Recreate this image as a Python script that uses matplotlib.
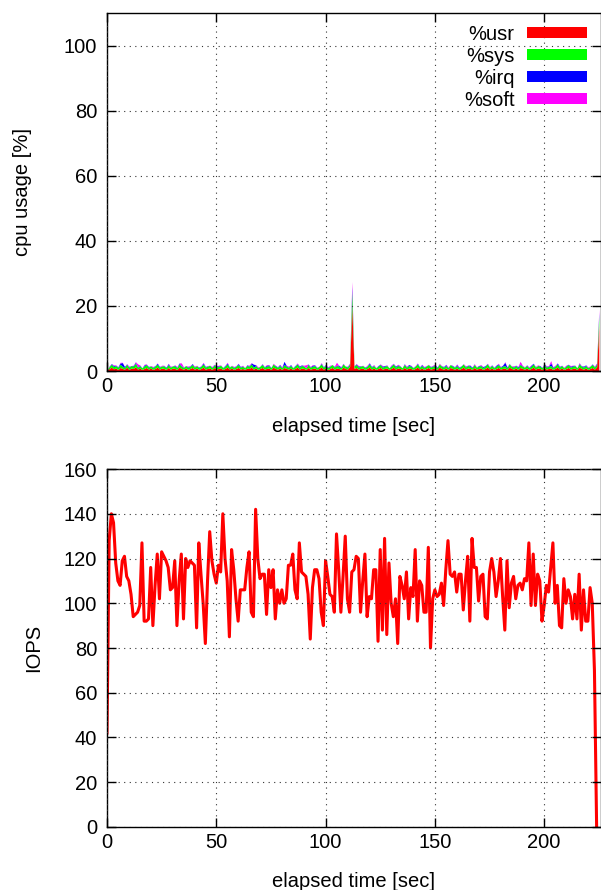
import numpy as np
import matplotlib
matplotlib.use("Agg")
import matplotlib.pyplot as plt

plt.rcParams['font.family'] = ['Liberation Sans', 'DejaVu Sans']
plt.rcParams['font.size'] = 14.5

# cpu usage [%], one sample per second
usr = [0.3,0.8,1.2,0.7,0.9,0.5,1.1,0.8,0.6,1.2,0.5,0.9,0.8,1.3,0.6,0.9,0.5,0.8,1.1,0.6,
       0.9,0.5,0.8,1.2,0.6,0.9,0.8,0.5,1.1,0.6,0.9,0.8,0.5,1.2,0.8,0.6,0.9,0.5,0.8,1.1,
       0.6,0.9,0.5,0.8,1.2,0.6,0.8,0.9,0.5,1.1,0.6,0.8,0.9,0.5,0.8,1.2,0.6,0.9,0.5,0.8,
       1.1,0.6,0.8,0.5,0.9,0.8,1.2,0.6,0.9,0.5,0.8,1.1,0.6,0.8,0.9,0.5,1.2,0.8,0.6,0.9,
       0.5,1.1,0.8,0.6,0.9,0.5,0.8,1.2,0.6,0.9,0.8,0.5,1.1,0.6,0.8,0.9,0.5,0.8,1.2,0.6,
       0.9,0.5,0.8,1.1,0.6,0.9,0.8,0.5,1.2,0.8,0.6,1.4,20.0,0.8,1.1,0.6,0.8,0.9,0.5,0.8,
       1.2,0.6,0.9,0.5,0.8,1.1,0.6,0.8,0.9,0.5,0.8,1.2,0.6,0.9,0.8,0.5,1.1,0.6,0.9,0.8,
       0.5,0.8,1.2,0.6,0.9,0.5,0.8,1.1,0.6,0.8,0.9,0.5,1.2,0.8,0.6,0.9,0.5,1.1,0.8,0.6,
       0.9,0.5,0.8,1.2,0.6,0.9,0.8,0.5,1.1,0.6,0.8,0.9,0.5,0.8,1.2,0.6,0.9,0.5,0.8,1.1,
       0.6,0.8,0.9,0.5,1.2,0.8,0.6,0.9,0.5,1.1,0.8,0.6,0.9,0.5,0.8,1.2,0.6,0.9,0.8,0.5,
       1.1,0.6,0.8,0.9,0.5,0.8,1.2,0.6,0.9,0.5,0.8,1.1,0.6,0.8,0.9,0.5,1.2,0.8,0.6,0.9,
       0.5,0.8,1.1,0.6,1.3,14.0]
sys_ = [0.0,0.6,0.9,0.7,0.8,0.6,1.0,0.7,0.5,0.9,0.6,0.8,0.7,1.1,0.6,0.7,0.5,0.8,0.9,0.6,
        0.7,0.5,0.8,0.9,0.6,0.7,0.8,0.5,0.9,0.6,0.7,0.8,0.6,1.0,0.7,0.5,0.8,0.6,0.7,0.9,
        0.6,0.8,0.5,0.7,1.0,0.6,0.7,0.9,0.5,0.8,0.7,0.6,0.9,0.5,0.7,1.0,0.6,0.8,0.5,0.7,
        0.9,0.6,0.7,0.5,0.8,0.7,1.0,0.6,0.8,0.5,0.7,0.9,0.6,0.7,0.8,0.5,1.0,0.7,0.6,0.8,
        0.5,0.9,0.7,0.6,0.8,0.5,0.7,1.0,0.6,0.8,0.7,0.5,0.9,0.6,0.7,0.8,0.5,0.7,1.0,0.6,
        0.8,0.5,0.7,0.9,0.6,0.8,0.7,0.5,1.0,0.7,0.6,0.8,4.5,0.7,0.9,0.6,0.7,0.8,0.5,0.7,
        1.0,0.6,0.8,0.5,0.7,0.9,0.6,0.7,0.8,0.5,0.7,1.0,0.6,0.8,0.7,0.5,0.9,0.6,0.8,0.7,
        0.5,0.7,1.0,0.6,0.8,0.5,0.7,0.9,0.6,0.7,0.8,0.5,1.0,0.7,0.6,0.8,0.5,0.9,0.7,0.6,
        0.8,0.5,0.7,1.0,0.6,0.8,0.7,0.5,0.9,0.6,0.7,0.8,0.5,0.7,1.0,0.6,0.8,0.5,0.7,0.9,
        0.6,0.7,0.8,0.5,1.0,0.7,0.6,0.8,0.5,0.9,0.7,0.6,0.8,0.5,0.7,1.0,0.6,0.8,0.7,0.5,
        0.9,0.6,0.7,0.8,0.5,0.7,1.0,0.6,0.8,0.5,0.7,0.9,0.6,0.7,0.8,0.5,1.0,0.7,0.6,0.8,
        0.5,0.7,0.9,0.6,0.8,3.0]
irq = [0.0,0.1,0.2,0.3,0.1,0.2,0.4,1.1,0.3,0.1,0.2,0.0,0.2,0.3,0.1,0.2,0.0,0.3,0.1,0.2,
       0.0,0.2,0.1,0.3,0.2,0.0,0.1,0.2,0.3,0.1,0.0,0.2,0.1,0.3,0.2,0.1,0.0,0.2,0.1,0.3,
       0.1,0.0,0.2,0.1,0.3,0.2,0.1,0.0,0.2,0.1,0.3,0.2,0.0,0.1,0.2,0.3,0.1,0.0,0.2,0.1,
       0.3,0.2,0.1,0.0,0.2,0.1,0.3,0.9,0.2,0.1,0.0,0.2,0.1,0.3,0.2,0.1,0.0,0.2,0.1,0.3,
       0.1,1.0,0.2,0.1,0.3,0.0,0.2,0.1,0.3,0.2,0.1,0.0,0.2,0.1,0.3,0.2,0.1,0.0,0.2,0.1,
       0.3,0.2,0.1,0.0,0.2,0.1,0.3,0.2,0.1,0.0,0.2,0.1,1.5,0.1,0.2,0.3,0.1,0.0,0.2,0.1,
       0.3,0.2,0.1,0.0,0.2,0.1,0.3,0.2,0.1,0.0,0.2,0.1,0.3,0.2,0.1,0.0,0.2,0.1,0.3,0.2,
       0.1,0.0,0.2,0.1,0.3,0.2,0.1,0.0,0.2,0.1,0.3,0.2,0.0,0.1,0.2,0.3,0.1,0.0,0.2,0.1,
       0.3,0.2,0.1,0.0,0.2,0.1,0.3,0.2,0.1,0.0,0.2,0.1,0.3,0.2,0.1,0.0,0.2,0.1,0.3,0.2,
       0.1,0.3,1.0,0.2,0.1,0.0,0.2,0.1,0.3,0.2,0.1,0.0,0.2,0.1,0.3,0.2,0.1,0.0,0.2,0.1,
       0.3,0.2,0.1,0.8,0.2,0.1,0.3,0.2,0.1,0.0,0.2,0.1,0.3,0.2,0.1,0.0,0.2,0.1,0.3,0.2,
       0.1,0.0,0.2,0.1,0.3,1.0]
soft = [0.0,0.1,0.0,0.2,0.1,0.0,0.2,0.1,0.0,0.1,0.2,0.0,0.1,0.2,0.9,0.1,0.0,0.2,0.1,0.0,
        0.1,0.2,0.0,0.1,0.0,0.2,0.1,0.0,0.1,0.2,0.0,0.1,0.2,0.0,0.8,0.1,0.0,0.2,0.1,0.0,
        0.2,0.1,0.0,0.1,0.2,0.0,0.1,0.0,0.2,0.1,0.0,0.2,0.1,0.0,0.1,0.2,0.0,0.1,0.2,0.0,
        0.1,0.0,0.2,0.1,0.0,0.2,0.1,0.0,0.1,0.2,0.0,0.1,0.0,0.2,0.1,0.0,0.2,0.1,0.0,0.1,
        0.2,0.0,0.1,0.2,0.0,0.1,0.0,0.2,0.1,0.0,0.2,0.9,0.0,0.1,0.2,0.0,0.1,0.0,0.2,0.1,
        0.0,0.1,0.2,0.0,0.1,0.9,0.0,0.2,0.1,0.0,0.1,0.2,1.5,0.0,0.1,0.2,0.0,0.1,0.0,0.2,
        0.1,0.0,0.2,0.1,0.0,0.1,0.2,0.0,0.1,0.0,0.2,0.1,0.0,0.2,0.1,0.0,0.1,0.2,0.0,0.1,
        0.0,0.2,0.1,0.0,0.1,0.2,0.0,0.1,0.0,0.2,0.1,0.0,0.2,0.1,0.0,0.1,0.2,0.0,0.1,0.0,
        0.2,0.1,0.0,0.1,0.2,0.0,0.1,0.0,0.2,0.1,0.0,0.2,0.1,0.0,0.1,0.2,0.0,0.1,0.0,0.2,
        0.1,0.0,0.2,0.1,0.0,0.1,0.2,0.0,0.1,0.8,0.2,0.1,0.0,0.2,0.1,0.0,0.1,0.2,0.0,0.1,
        0.0,0.2,0.1,0.7,0.1,0.2,0.0,0.1,0.0,0.2,0.1,0.0,0.2,0.1,0.0,0.1,0.2,0.0,0.1,0.0,
        0.2,0.1,0.0,0.2,0.1,1.0]

# IOPS, one sample per second
iops = [42,128,140,136,118,110,108,119,121,112,
        110,104,94,95,96,99,127,92,92,93,
        116,90,108,122,102,123,121,119,116,106,
        107,119,90,110,122,93,120,116,119,118,
        117,89,127,113,100,82,110,132,119,113,
        109,117,114,140,120,110,85,124,115,102,
        92,106,106,106,116,123,96,94,142,120,
        111,113,113,95,115,107,115,93,106,100,
        106,100,102,117,117,122,106,102,127,114,
        113,112,104,84,107,115,115,111,96,90,
        119,112,104,103,96,131,115,96,112,130,
        102,96,114,115,121,120,96,110,122,94,
        103,102,115,115,83,124,88,129,86,118,
        100,94,102,82,112,108,102,114,93,107,
        103,124,92,110,108,96,96,125,80,102,
        106,103,104,109,99,115,128,113,112,114,
        105,113,113,97,110,121,92,129,116,116,
        101,112,113,94,93,114,120,114,103,110,
        120,103,88,119,98,109,112,102,108,109,
        106,111,110,127,99,122,99,113,110,92,
        99,108,105,116,127,100,108,90,89,111,
        100,106,103,93,104,93,113,88,106,92,
        92,107,100,70,0]

cpu_names = ['%usr', '%sys', '%irq', '%soft']
cpu_colors = ['#ff0000', '#00ff00', '#0000ff', '#ff00ff']

t_cpu = np.arange(len(usr))
t_io = np.arange(len(iops))


def style(ax, ymax, ystep):
    ax.set_xlim(0, 226)
    ax.set_ylim(0, ymax)
    ax.set_xticks(np.arange(0, 201, 50))
    ax.set_yticks(np.arange(0, ymax + 1, ystep))
    ax.grid(True, color='#333333', linestyle=(0, (1, 4)), linewidth=0.8)
    ax.tick_params(direction='in', length=6.5, width=1, top=True, right=True,
                   labelsize=14.5, colors='black')
    ax.tick_params(axis='y', pad=7)
    ax.tick_params(axis='x', pad=4)
    for s in ax.spines.values():
        s.set_linewidth(1.0)
    ax.set_axisbelow(False)


fig = plt.figure(figsize=(6.01, 8.90), dpi=100)

# cpu usage
ax1 = fig.add_axes([0.178, 0.5831, 0.822, 0.4022])
base = np.zeros(len(usr))
for vals, name, col in zip([usr, sys_, irq, soft], cpu_names, cpu_colors):
    top = base + np.array(vals)
    ax1.fill_between(t_cpu, base, top, color=col, linewidth=0, label=name)
    base = top
style(ax1, 110, 20)
ax1.set_ylabel('cpu usage [%]')
ax1.set_xlabel('elapsed time [sec]')
ax1.yaxis.set_label_coords(-0.152, 0.5)
ax1.xaxis.set_label_coords(0.5, -0.128)
ax1.legend(loc='upper right', bbox_to_anchor=(0.972, 0.968), frameon=False,
           markerfirst=False, handlelength=3.0, handleheight=0.5,
           handletextpad=0.6, labelspacing=0.15, borderpad=0, borderaxespad=0,
           fontsize=14.5)

# IOPS
ax2 = fig.add_axes([0.178, 0.0708, 0.822, 0.4022])
ax2.plot(t_io, iops, color='#ff0000', linewidth=2.2)
style(ax2, 160, 20)
ax2.set_ylabel('IOPS')
ax2.set_xlabel('elapsed time [sec]')
ax2.yaxis.set_label_coords(-0.130, 0.5)
ax2.xaxis.set_label_coords(0.5, -0.126)

fig.savefig('out.png', dpi=100)
